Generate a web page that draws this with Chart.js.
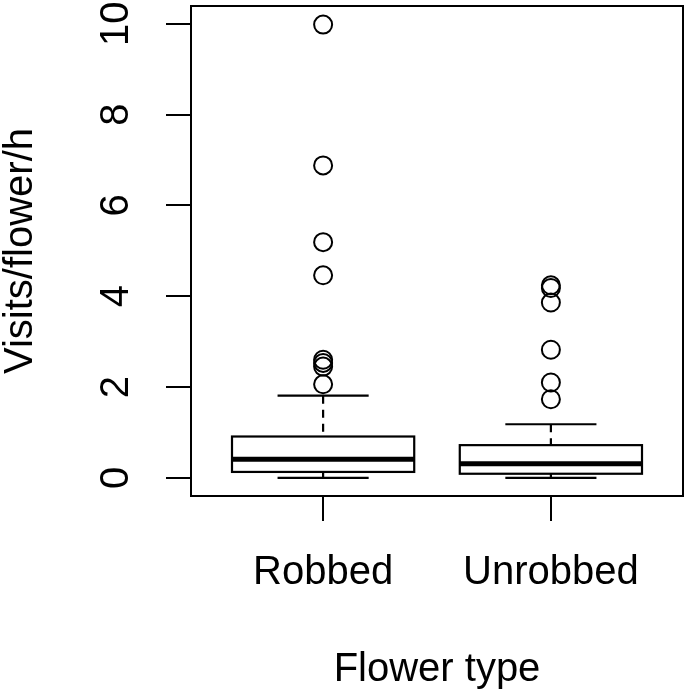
<!DOCTYPE html>
<html>
<head>
<meta charset="utf-8">
<script src="https://cdn.jsdelivr.net/npm/chart.js@4"></script>
<style>body{margin:0;background:#fff}</style>
</head>
<body>
<canvas id="myChart" width="685" height="694"></canvas>
<script>
var groups = ["Robbed", "Unrobbed"];
var lowWhisker = [0, 0];
var q1 = [0.13, 0.09];
var medians = [0.41, 0.31];
var q3 = [0.91, 0.72];
var highWhisker = [1.81, 1.18];
var robbedOutliers = [9.98, 6.88, 5.19, 4.46, 2.60, 2.53, 2.45, 2.06];
var unrobbedOutliers = [4.24, 4.18, 3.86, 2.82, 2.10, 1.73];
var yTicks = [0, 2, 4, 6, 8, 10];
var fontFamily = "'Liberation Sans', Arial, sans-serif";

// boxes, whiskers, medians and the plot frame
var boxPlugin = {
  id: 'boxes',
  beforeDatasetsDraw: function(chart) {
    var ctx = chart.ctx, x = chart.scales.x, y = chart.scales.y, a = chart.chartArea;
    function line(x1, y1, x2, y2) {
      ctx.beginPath(); ctx.moveTo(x1, y1); ctx.lineTo(x2, y2); ctx.stroke();
    }
    ctx.save();
    ctx.strokeStyle = '#000';
    groups.forEach(function(g, i) {
      var c = x.getPixelForValue(i + 1);
      var bl = x.getPixelForValue(i + 0.6), br = x.getPixelForValue(i + 1.4);
      var cl = x.getPixelForValue(i + 0.8), cr = x.getPixelForValue(i + 1.2);
      var pLow = y.getPixelForValue(lowWhisker[i]);
      var pQ1 = y.getPixelForValue(q1[i]);
      var pMed = y.getPixelForValue(medians[i]);
      var pQ3 = y.getPixelForValue(q3[i]);
      var pHigh = y.getPixelForValue(highWhisker[i]);
      ctx.lineWidth = 2.2;
      ctx.setLineDash([8, 6]);
      line(c, pHigh, c, pQ3);
      line(c, pQ1, c, pLow);
      ctx.setLineDash([]);
      line(cl, pHigh, cr, pHigh);
      line(cl, pLow, cr, pLow);
      ctx.fillStyle = '#fff';
      ctx.fillRect(bl, pQ3, br - bl, pQ1 - pQ3);
      ctx.strokeRect(bl, pQ3, br - bl, pQ1 - pQ3);
      ctx.lineWidth = 5;
      line(bl, pMed, br, pMed);
    });
    ctx.lineWidth = 2;
    ctx.strokeRect(a.left, a.top, a.right - a.left, a.bottom - a.top);
    ctx.restore();
  }
};

function noPadding(scale) {
  scale.paddingLeft = 0;
  scale.paddingRight = 0;
  scale.paddingTop = 0;
  scale.paddingBottom = 0;
}

new Chart("myChart", {
  type: "scatter",
  data: {
    datasets: [{
      data: robbedOutliers.map(function(v) { return {x: 1, y: v}; })
    }, {
      data: unrobbedOutliers.map(function(v) { return {x: 2, y: v}; })
    }]
  },
  options: {
    responsive: false,
    animation: false,
    layout: { autoPadding: false, padding: { top: 6, right: 2, left: 0, bottom: 0 } },
    elements: {
      point: {
        radius: 9,
        hoverRadius: 9,
        borderWidth: 2,
        borderColor: '#000',
        backgroundColor: 'rgba(0,0,0,0)'
      }
    },
    plugins: {
      legend: { display: false },
      tooltip: { enabled: false }
    },
    scales: {
      x: {
        type: 'linear',
        min: 0.42,
        max: 2.58,
        afterBuildTicks: function(scale) {
          scale.ticks = [{value: 1}, {value: 2}];
        },
        afterFit: function(scale) { scale.height = 198; noPadding(scale); },
        grid: { drawOnChartArea: false, color: '#000', lineWidth: 2, tickLength: 25 },
        border: { display: true, color: '#000', width: 2 },
        ticks: {
          autoSkip: false,
          maxRotation: 0,
          padding: 28,
          color: '#000',
          font: { size: 40, family: fontFamily },
          callback: function(v) { return groups[Math.round(v) - 1]; }
        },
        title: {
          display: true,
          text: 'Flower type',
          color: '#000',
          font: { size: 40, family: fontFamily },
          padding: { top: 0, bottom: 0 }
        }
      },
      y: {
        min: -0.4,
        max: 10.39,
        afterBuildTicks: function(scale) {
          scale.ticks = yTicks.map(function(v) { return {value: v}; });
        },
        afterFit: function(scale) { scale.width = 191; noPadding(scale); },
        grid: { drawOnChartArea: false, color: '#000', lineWidth: 2, tickLength: 25 },
        border: { display: true, color: '#000', width: 2 },
        ticks: {
          autoSkip: false,
          minRotation: 90,
          maxRotation: 90,
          crossAlign: 'center',
          padding: 27,
          color: '#000',
          font: { size: 40, family: fontFamily }
        },
        title: {
          display: true,
          text: 'Visits/flower/h',
          color: '#000',
          font: { size: 40, family: fontFamily, lineHeight: 1 },
          padding: { top: 1, bottom: 0 }
        }
      }
    }
  },
  plugins: [boxPlugin]
});
</script>
</body>
</html>
